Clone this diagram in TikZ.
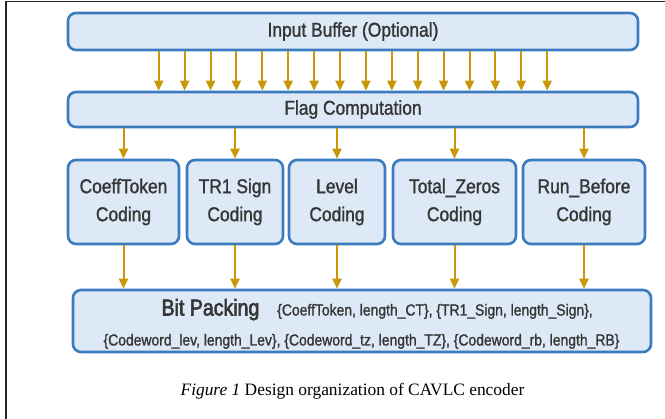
\documentclass[tikz,border=0pt]{standalone}
\usepackage{fontspec}
\setmainfont{Liberation Serif}
\newfontfamily\labfont[FakeStretch=0.87,FakeBold=1.3]{Liberation Sans}
\newfontfamily\headfont[FakeStretch=0.85,FakeBold=2.6]{Liberation Sans}
\usetikzlibrary{arrows.meta}
\definecolor{boxfill}{HTML}{DDE9F6}
\definecolor{boxline}{HTML}{3B7CC0}
\definecolor{flow}{HTML}{C9970A}
\definecolor{txt}{HTML}{363636}
\tikzset{
  blockbox/.style={draw=boxline, fill=boxfill, line width=2.6pt, rounded corners=8pt,
    inner sep=0pt, text=txt, align=center,
    font=\labfont\fontsize{20}{28}\selectfont},
  flowarrow/.style={draw=flow, line width=2pt, -{Triangle[length=10pt,width=9pt]}},
  labeltext/.style={inner sep=0pt, text=txt, anchor=base}
}
\begin{document}
\begin{tikzpicture}[x=1pt,y=-1pt]
  \useasboundingbox (0,0) rectangle (665,419);
  % page frame
  \draw[line width=1.3pt, black!85] (6,419) -- (6,1.5) -- (665,1.5);

  % top blocks
  \node[blockbox, minimum width=570pt, minimum height=37pt] (inbuf) at (353,31.5) {Input Buffer (Optional)};
  \node[blockbox, minimum width=570pt, minimum height=35pt] (flag) at (353,109.5) {Flag Computation};

  % coding blocks
  \node[blockbox, minimum width=111pt, minimum height=84pt] (ct) at (123.5,202) {CoeffToken\\Coding};
  \node[blockbox, minimum width=96pt,  minimum height=84pt] (tr) at (235,202) {TR1 Sign\\Coding};
  \node[blockbox, minimum width=96pt,  minimum height=84pt] (lev) at (337,202) {Level\\Coding};
  \node[blockbox, minimum width=123pt, minimum height=84pt] (tz) at (454.5,202) {Total\_Zeros\\Coding};
  \node[blockbox, minimum width=122pt, minimum height=84pt] (rb) at (584,202) {Run\_Before\\Coding};

  % bit packing block
  \node[blockbox, minimum width=578pt, minimum height=62pt] (bits) at (362,321) {};
  \node[labeltext, font=\headfont\fontsize{23}{26}\selectfont] (bitsname) at (210.5,315.5) {Bit Packing};
  \node[labeltext, font=\labfont\fontsize{16}{20}\selectfont] (bitsone) at (435,315.5) {\{CoeffToken, length\_CT\}, \{TR1\_Sign, length\_Sign\},};
  \node[labeltext, font=\labfont\fontsize{16}{20}\selectfont] (bitstwo) at (361.5,345.5) {\{Codeword\_lev, length\_Lev\}, \{Codeword\_tz, length\_TZ\}, \{Codeword\_rb, length\_RB\}};

  % buffer to flag computation
  \foreach \i in {0,...,15}
    \draw[flowarrow] ([xshift=92pt+\i*25.9pt]inbuf.south west) -- ([xshift=92pt+\i*25.9pt]flag.north west);

  % flag computation to coders, coders to bit packing
  \foreach \c in {ct,tr,lev,tz,rb} {
    \draw[flowarrow] (flag.south -| \c.north) -- (\c.north);
    \draw[flowarrow] (\c.south) -- (\c.south |- bits.north);
  }

  % caption
  \node[inner sep=0pt, anchor=base, font=\fontsize{17.4}{20}\selectfont] (caption) at (352.5,396)
    {\textit{Figure 1} Design organization of CAVLC encoder};
\end{tikzpicture}
\end{document}
